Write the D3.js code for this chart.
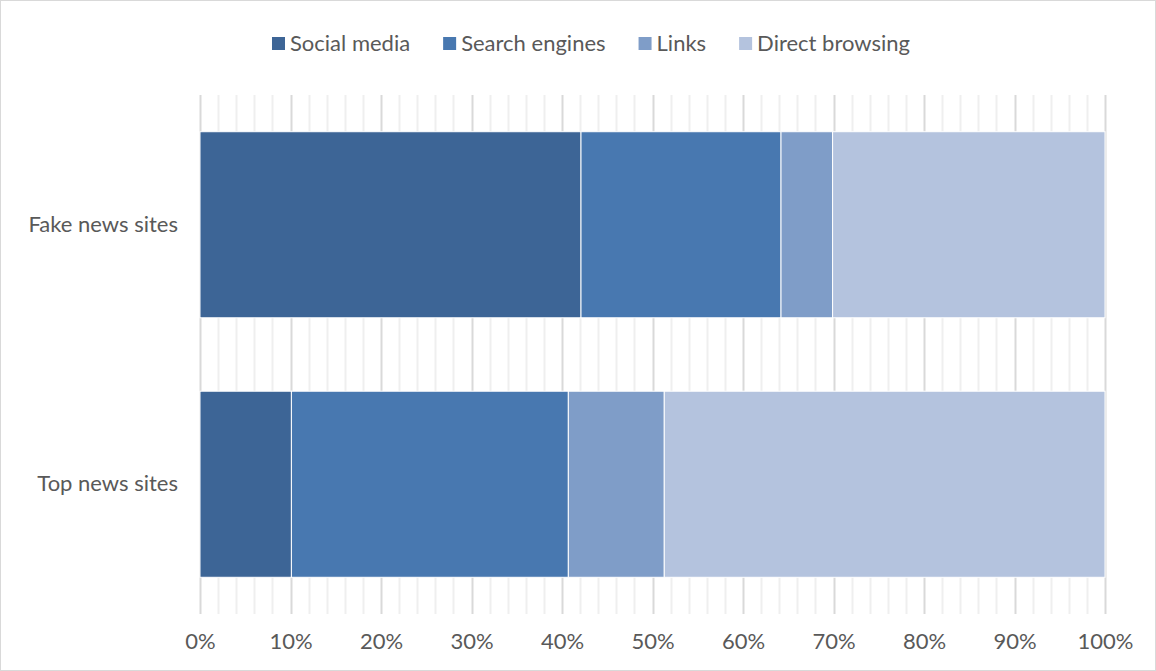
<!DOCTYPE html>
<html>
<head>
<meta charset="utf-8">
<script src="https://cdn.jsdelivr.net/npm/d3@7"></script>
<style>
  body { margin: 0; background: #fff; }
  text { font-family: Lato, "Open Sans", sans-serif; fill: #595959; }
</style>
</head>
<body>
<div id="chart"></div>
<script>
// data
var categories = ['Fake news sites', 'Top news sites']
var seriesNames = ['Social media', 'Search engines', 'Links', 'Direct browsing']
var socialMedia = [42.1, 10.1]
var searchEngines = [22.1, 30.6]
var links = [5.7, 10.6]
var directBrowsing = [30.1, 48.7]
var xTicks = [0, 10, 20, 30, 40, 50, 60, 70, 80, 90, 100]
var colors = ['#3d6596', '#4878b0', '#7f9dc8', '#b4c3de']

var width = 1156,
    height = 671,
    margin = { left: 200, right: 51, top: 95, bottom: 57 },
    fontSize = '22px'

var svg = d3.select('#chart')
    .append('svg')
    .attr('width', width)
    .attr('height', height)

// outer border
svg.append('rect')
    .attr('x', 0.5).attr('y', 0.5)
    .attr('width', width - 1).attr('height', height - 1)
    .attr('fill', '#fff')
    .attr('stroke', '#d9d9d9')

// scales
var xscale = d3.scaleLinear()
    .domain([0, 100])
    .range([margin.left, width - margin.right])

var yscale = d3.scaleBand()
    .domain(categories)
    .range([margin.top, height - margin.bottom])
    .paddingInner(0.283)
    .paddingOuter(0.1415)

// gridlines: minor every 2%, major every 10%
var minor = d3.range(0, 101, 2).filter(d => d % 10 !== 0)
svg.append('g').selectAll('line')
    .data(minor)
    .enter()
    .append('line')
    .attr('x1', d => Math.round(xscale(d)) + 0.5)
    .attr('x2', d => Math.round(xscale(d)) + 0.5)
    .attr('y1', margin.top)
    .attr('y2', height - margin.bottom)
    .attr('stroke', '#efefef')
    .attr('stroke-width', 2)

svg.append('g').selectAll('line')
    .data(xTicks)
    .enter()
    .append('line')
    .attr('x1', d => Math.round(xscale(d)) + 0.5)
    .attr('x2', d => Math.round(xscale(d)) + 0.5)
    .attr('y1', margin.top)
    .attr('y2', height - margin.bottom)
    .attr('stroke', '#d9d9d9')
    .attr('stroke-width', 2)

// stacked bars
var rows = categories.map((c, i) => ({
    cat: c,
    'Social media': socialMedia[i],
    'Search engines': searchEngines[i],
    'Links': links[i],
    'Direct browsing': directBrowsing[i]
}))
var stacked = d3.stack().keys(seriesNames)(rows)

svg.append('g').selectAll('g')
    .data(stacked)
    .enter()
    .append('g')
    .attr('fill', (d, i) => colors[i])
    .selectAll('rect')
    .data(d => d)
    .enter()
    .append('rect')
    .attr('x', d => xscale(d[0]))
    .attr('y', d => yscale(d.data.cat))
    .attr('width', d => xscale(d[1]) - xscale(d[0]))
    .attr('height', yscale.bandwidth())
    .attr('stroke', '#fff')
    .attr('stroke-width', 1)

// axis
var xaxis = d3.axisBottom(xscale)
    .tickValues(xTicks)
    .tickFormat(d => d + '%')
    .tickSize(0)
    .tickPadding(19)
var gx = svg.append('g')
    .attr('transform', 'translate(0,' + (height - margin.bottom) + ')')
    .call(xaxis)
gx.select('.domain').remove()
gx.selectAll('text')
    .style('font-size', fontSize)
    .attr('fill', '#595959')

var yaxis = d3.axisLeft(yscale).tickSize(0).tickPadding(22)
var gy = svg.append('g')
    .attr('transform', 'translate(' + margin.left + ',0)')
    .call(yaxis)
gy.select('.domain').remove()
gy.selectAll('text')
    .style('font-size', fontSize)
    .attr('fill', '#595959')

// legend
var legend = svg.append('g')
var lx = 0
seriesNames.forEach((name, i) => {
    var item = legend.append('g').attr('transform', 'translate(' + lx + ',0)')
    item.append('rect')
        .attr('x', 0).attr('y', -14)
        .attr('width', 13).attr('height', 13)
        .attr('fill', colors[i])
    var t = item.append('text')
        .attr('x', 18).attr('y', 0)
        .style('font-size', fontSize)
        .text(name)
    lx += 18 + t.node().getComputedTextLength() + 33
})
var legendW = lx - 33
legend.attr('transform', 'translate(' + (width / 2 - legendW / 2 + 13) + ',51)')
</script>
</body>
</html>
